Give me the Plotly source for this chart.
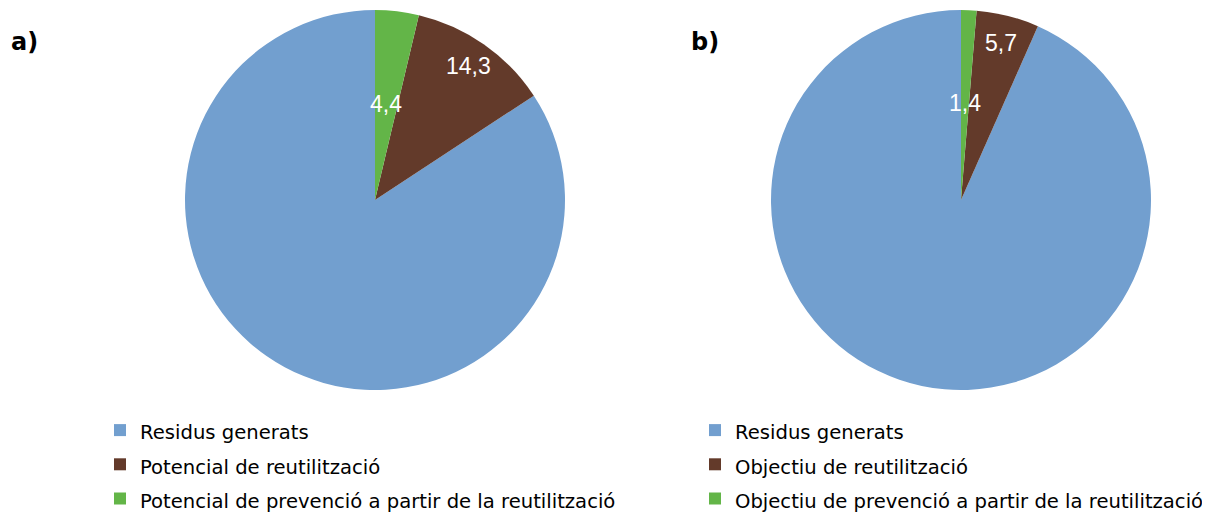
import math
import plotly.graph_objects as go

W, H = 1210, 513
OFF = 8  # page body margin offset of the rendered figure

labels_a = ["Residus generats", "Potencial de reutilització",
            "Potencial de prevenció a partir de la reutilització"]
values_a = [100, 14.3, 4.4]
text_a = ["", "14,3", "4,4"]

labels_b = ["Residus generats", "Objectiu de reutilització",
            "Objectiu de prevenció a partir de la reutilització"]
values_b = [100, 5.7, 1.4]
text_b = ["", "5,7", "1,4"]

colors = ["#729FCF", "#633A2A", "#63B548"]

# pie geometry in screen pixels (center x, center y, radius)
geom_a = (375, 200, 190)
geom_b = (961, 200, 190)


def px_x(p):
    return (p - OFF) / W


def px_y(p):
    return 1 - (p - OFF) / H


def domain(g):
    cx, cy, r = g
    return dict(x=[px_x(cx - r), px_x(cx + r)],
                y=[px_y(cy + r), px_y(cy - r)])


def small_share_angle(values):
    return sum(values[1:]) / sum(values) * 360


def label_annotations(values, texts, g, fracs):
    # small slices sit clockwise from 12 o'clock, last one first
    cx, cy, r = g
    total = sum(values)
    anns = []
    cum = 0.0
    for v, t, f in list(zip(values, texts, fracs))[::-1]:
        a0 = cum / total * 360
        cum += v
        a1 = cum / total * 360
        mid = math.radians((a0 + a1) / 2)
        if t:
            sx = cx + f * r * math.sin(mid)
            sy = cy - f * r * math.cos(mid)
            anns.append(dict(x=px_x(sx), y=px_y(sy), xref="paper", yref="paper",
                             xanchor="center", yanchor="middle",
                             text=t, showarrow=False,
                             font=dict(family="Liberation Sans, Arial", size=23,
                                       color="white")))
    return anns


LEG_FONT_PX = 19.6


def legend_labels(labels, style):
    return [f"<span style='{style}'>{l}</span>" for l in labels]


fig = go.Figure()
fig.add_trace(go.Pie(labels=legend_labels(labels_a, f"font-size:{LEG_FONT_PX}px"),
                     values=values_a, sort=False,
                     direction="counterclockwise",
                     rotation=small_share_angle(values_a),
                     marker=dict(colors=colors, line=dict(width=0)),
                     textinfo="none", hoverinfo="label+value",
                     domain=domain(geom_a), legend="legend"))
fig.add_trace(go.Pie(labels=legend_labels(labels_b, f"font-size: {LEG_FONT_PX}px"),
                     values=values_b, sort=False,
                     direction="counterclockwise",
                     rotation=small_share_angle(values_b),
                     marker=dict(colors=colors, line=dict(width=0)),
                     textinfo="none", hoverinfo="label+value",
                     domain=domain(geom_b), legend="legend2"))

anns = []
anns += label_annotations(values_a, text_a, geom_a, [0, 0.86, 0.51])
anns += label_annotations(values_b, text_b, geom_b, [0, 0.85, 0.51])
anns.append(dict(x=px_x(9), y=px_y(42), xref="paper", yref="paper", text="<b>a)</b>",
                 showarrow=False, xanchor="left", yanchor="middle",
                 font=dict(family="DejaVu Sans", size=24, color="black")))
anns.append(dict(x=px_x(689), y=px_y(42), xref="paper", yref="paper", text="<b>b)</b>",
                 showarrow=False, xanchor="left", yanchor="middle",
                 font=dict(family="DejaVu Sans", size=24, color="black")))

legend_font = dict(family="DejaVu Sans", size=24, color="black")
fig.update_layout(
    width=W, height=H,
    margin=dict(l=0, r=0, t=0, b=0, autoexpand=False),
    paper_bgcolor="white", plot_bgcolor="white",
    annotations=anns,
    legend=dict(x=px_x(100), y=px_y(408), xanchor="left", yanchor="top",
                font=legend_font, bgcolor="rgba(0,0,0,0)", traceorder="normal"),
    legend2=dict(x=px_x(695), y=px_y(408), xanchor="left", yanchor="top",
                 font=legend_font, bgcolor="rgba(0,0,0,0)", traceorder="normal"),
)

fig.write_html("out.html")
